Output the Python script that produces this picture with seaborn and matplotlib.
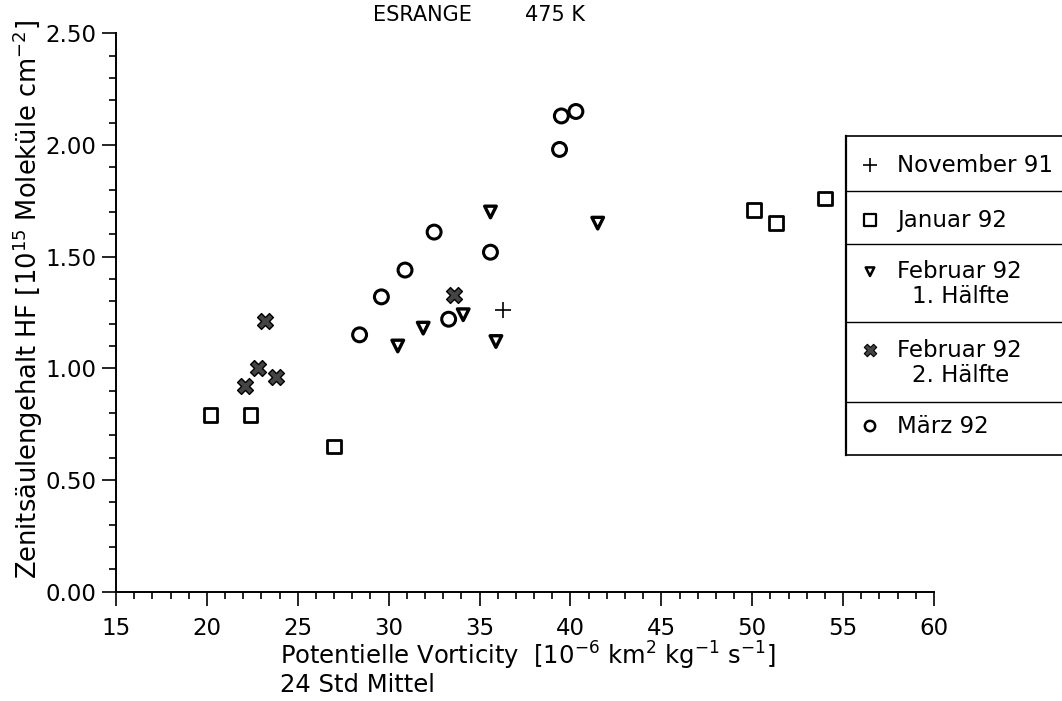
import matplotlib
matplotlib.use("Agg")
import matplotlib.pyplot as plt
from matplotlib.ticker import MultipleLocator, FormatStrFormatter
import seaborn as sns
import pandas as pd

# Data: potential vorticity (x) and HF column (y)
nov91_pv = [36.3]
nov91_hf = [1.26]

jan92_pv = [20.2, 22.4, 27.0, 50.1, 51.3, 54.0]
jan92_hf = [0.79, 0.79, 0.65, 1.71, 1.65, 1.76]

feb92a_pv = [35.6, 41.5, 31.9, 30.5, 34.1, 35.9]
feb92a_hf = [1.70, 1.65, 1.18, 1.10, 1.24, 1.12]

feb92b_pv = [23.2, 22.8, 23.8, 22.1, 33.6]
feb92b_hf = [1.21, 1.00, 0.96, 0.92, 1.33]

mar92_pv = [39.5, 40.3, 39.4, 32.5, 35.6, 30.9, 29.6, 33.3, 28.4]
mar92_hf = [2.13, 2.15, 1.98, 1.61, 1.52, 1.44, 1.32, 1.22, 1.15]

legend_labels = ["November 91", "Januar 92", "Februar 92\n1. Hälfte",
                 "Februar 92\n2. Hälfte", "März 92"]

sns.set_theme(style="white")
plt.rcParams["font.family"] = ["DejaVu Sans"]
plt.rcParams["mathtext.default"] = "regular"
plt.rcParams["text.color"] = "black"
FS = 16.5

W, H = 1062, 701
fig = plt.figure(figsize=(W / 100, H / 100), dpi=100)
ax = fig.add_axes([116 / W, 1 - 591.7 / H, (934 - 116) / W, (591.7 - 33.3) / H])

# marker styles per group
styles = [
    (nov91_pv, nov91_hf, dict(marker="+", s=140, color="black", linewidth=1.2)),
    (jan92_pv, jan92_hf, dict(marker="s", s=95, facecolor="none", edgecolor="black", linewidth=2)),
    (feb92a_pv, feb92a_hf, dict(marker="v", s=70, facecolor="none", edgecolor="black", linewidth=2.4)),
    (feb92b_pv, feb92b_hf, dict(marker="X", s=130, facecolor="#444444", edgecolor="black", linewidth=1)),
    (mar92_pv, mar92_hf, dict(marker="o", s=100, facecolor="none", edgecolor="black", linewidth=2.2)),
]
for pv, hf, kw in styles:
    df = pd.DataFrame({"pv": pv, "hf": hf})
    sns.scatterplot(data=df, x="pv", y="hf", ax=ax, legend=False, **kw)

ax.set_xlim(15, 60)
ax.set_ylim(0, 2.5)
ax.set_xlabel("")
ax.set_ylabel("")
ax.xaxis.set_major_locator(MultipleLocator(5))
ax.xaxis.set_minor_locator(MultipleLocator(1))
ax.yaxis.set_major_locator(MultipleLocator(0.5))
ax.yaxis.set_minor_locator(MultipleLocator(0.1))
ax.yaxis.set_major_formatter(FormatStrFormatter("%.2f"))
ax.tick_params(axis="both", which="major", direction="out", length=10, width=1.2,
               labelsize=FS, color="black", labelcolor="black")
ax.tick_params(axis="both", which="minor", direction="out", length=5, width=1.2, color="black")
ax.tick_params(axis="x", which="both", bottom=True, pad=8)
ax.tick_params(axis="y", which="both", left=True, pad=4)
for side in ["top", "right"]:
    ax.spines[side].set_visible(False)
for side in ["left", "bottom"]:
    ax.spines[side].set_color("black")
    ax.spines[side].set_linewidth(1.4)

# titles and axis labels
fig.text(422 / W, 1 - 15 / H, "ESRANGE", ha="center", va="center", fontsize=15)
fig.text(555 / W, 1 - 15 / H, "475 K", ha="center", va="center", fontsize=15)
fig.text(28 / W, 1 - 300 / H,
         "Zenitsäulengehalt HF [10$^{15}$ Moleküle cm$^{-2}$]",
         rotation=90, ha="center", va="center", fontsize=18.5)
fig.text(280 / W, 1 - 640 / H,
         "Potentielle Vorticity  [10$^{-6}$ km$^{2}$ kg$^{-1}$ s$^{-1}$]\n24 Std Mittel",
         ha="left", va="top", fontsize=17.5, linespacing=1.05)

# custom legend box with separators
lx0, ly0, ly1 = 845.7, 136, 455
leg = fig.add_axes([lx0 / W, 1 - ly1 / H, (W + 20 - lx0) / W, (ly1 - ly0) / H])
leg.set_xlim(lx0, W + 20)
leg.set_ylim(ly1, ly0)
leg.set_xticks([])
leg.set_yticks([])
leg.set_facecolor("white")
for side in ["top", "bottom", "left"]:
    leg.spines[side].set_visible(True)
    leg.spines[side].set_color("black")
leg.spines["left"].set_linewidth(1.6)
leg.spines["top"].set_linewidth(1.2)
leg.spines["bottom"].set_linewidth(1.2)
leg.spines["right"].set_visible(False)
for yy in [190.7, 244, 321.7, 401.7]:
    leg.axhline(yy, color="black", linewidth=1)

key_y = [165, 220, 271.7, 350, 426]
key_kw = [
    dict(marker="+", s=110, color="black", linewidth=1.2),
    dict(marker="s", s=70, facecolor="none", edgecolor="black", linewidth=1.6),
    dict(marker="v", s=38, facecolor="none", edgecolor="black", linewidth=1.8),
    dict(marker="X", s=80, facecolor="#444444", edgecolor="black", linewidth=0.8),
    dict(marker="o", s=55, facecolor="none", edgecolor="black", linewidth=1.8),
]
for yy, lab, kw in zip(key_y, legend_labels, key_kw):
    leg.scatter([870], [yy], **kw)
    lines = lab.split("\n")
    leg.text(897, yy, lines[0], ha="left", va="center", fontsize=FS)
    if len(lines) > 1:
        leg.text(912, yy + 25, lines[1], ha="left", va="center", fontsize=FS)

fig.savefig("out.png", dpi=100)
